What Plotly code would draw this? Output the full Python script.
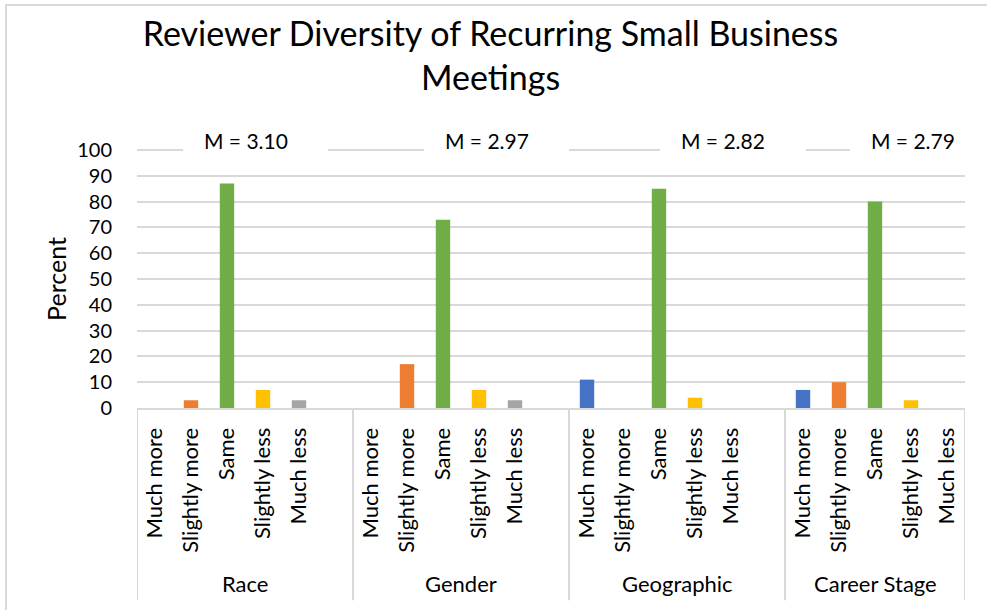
import plotly.graph_objects as go

# ---- data ----
groups = ["Race", "Gender", "Geographic", "Career Stage"]
responses = ["Much more", "Slightly more", "Same", "Slightly less", "Much less"]
race = [0, 3, 87, 7, 3]
gender = [0, 17, 73, 7, 3]
geographic = [11, 0, 85, 4, 0]
career_stage = [7, 10, 80, 3, 0]
means = ["3.10", "2.97", "2.82", "2.79"]

# ---- styling ----
response_colors = ["#4472C4", "#ED7D31", "#70AD47", "#FFC000", "#A5A5A5"]
group_slots = [6, 6, 6, 5]          # category slots per group (first three carry a blank slot)
FONT = "Lato"
GRID = "#D9D9D9"

series = [race, gender, geographic, career_stage]

# slot positions of every bar on a numeric axis
xs, ys, cols, tickvals, ticktext = [], [], [], [], []
starts = []
pos = 0
for g, vals in enumerate(series):
    starts.append(pos)
    for i, v in enumerate(vals):
        xs.append(pos + i + 0.5)
        ys.append(v)
        cols.append(response_colors[i])
        tickvals.append(pos + i + 0.5)
        ticktext.append(responses[i])
    pos += group_slots[g]
total = pos
bounds = starts + [total]

fig = go.Figure(
    go.Bar(x=xs, y=ys, width=0.4, marker=dict(color=cols, line_width=0),
           hoverinfo="y")
)

shapes = []
# top gridline (plotly leaves the one on the range edge out)
shapes.append(dict(type="line", xref="paper", yref="paper", x0=0, x1=1, y0=1, y1=1,
                   line=dict(color=GRID, width=2), layer="below"))
# group dividers below the axis
for b in bounds:
    shapes.append(dict(type="line", xref="x", yref="paper", x0=b, x1=b,
                       y0=0, y1=-0.745, line=dict(color=GRID, width=2)))
# chart frame
shapes.append(dict(type="rect", xref="paper", yref="paper",
                   x0=(6 - 137) / 828, x1=(1000 - 137) / 828,
                   y0=(408 - 640) / 258, y1=(408 - 5) / 258,
                   line=dict(color=GRID, width=2), layer="below"))

# mean labels in white boxes sitting on the top gridline
mean_box = [(1.28, 5.31), (7.97, 12.0), (14.53, 18.58), (19.8, 23.2)]
annotations = []
for (a, b), m in zip(mean_box, means):
    shapes.append(dict(type="rect", xref="x", yref="paper", x0=a, x1=b,
                       y0=(408 - 162) / 258, y1=(408 - 124) / 258,
                       fillcolor="white", line_width=0, layer="above"))
    annotations.append(dict(x=a + 0.53, y=(408 - 141) / 258, xref="x", yref="paper",
                            xanchor="left", yanchor="middle", showarrow=False,
                            text=f"M = {m}", font=dict(family=FONT, size=21, color="black")))

# group labels
for g, name in enumerate(groups):
    annotations.append(dict(x=(bounds[g] + bounds[g + 1]) / 2, y=(408 - 583) / 258,
                            xref="x", yref="paper", showarrow=False,
                            text=name, font=dict(family=FONT, size=22, color="black"),
                            xanchor="center", yanchor="middle"))

fig.update_layout(
    width=987, height=610,
    margin=dict(l=137, r=22, t=150, b=202),
    paper_bgcolor="white", plot_bgcolor="white",
    showlegend=False,
    font=dict(family=FONT, color="black"),
    title=dict(text="Reviewer Diversity of Recurring Small Business<br>Meetings",
               x=0.497, xref="container", xanchor="center",
               y=1 - 46 / 610, yref="container", yanchor="top",
               font=dict(family=FONT, size=34, color="black")),
    shapes=shapes,
    annotations=annotations,
    bargap=0.6,
)

fig.update_xaxes(range=[0, total], tickmode="array", tickvals=tickvals, ticktext=ticktext,
                 tickangle=-90, tickfont=dict(family=FONT, size=22, color="black"),
                 ticks="outside", ticklen=9, tickcolor="rgba(0,0,0,0)",
                 showgrid=False, zeroline=False, showline=True, linecolor=GRID, linewidth=2)
fig.update_yaxes(range=[0, 100], dtick=10, tickfont=dict(family=FONT, size=20, color="black"),
                 ticks="outside", ticklen=20, tickcolor="rgba(0,0,0,0)",
                 showgrid=True, gridcolor=GRID, gridwidth=2, zeroline=False,
                 title=dict(text="Percent", font=dict(family=FONT, size=25, color="black"), standoff=3))

fig.write_html("out.html")
